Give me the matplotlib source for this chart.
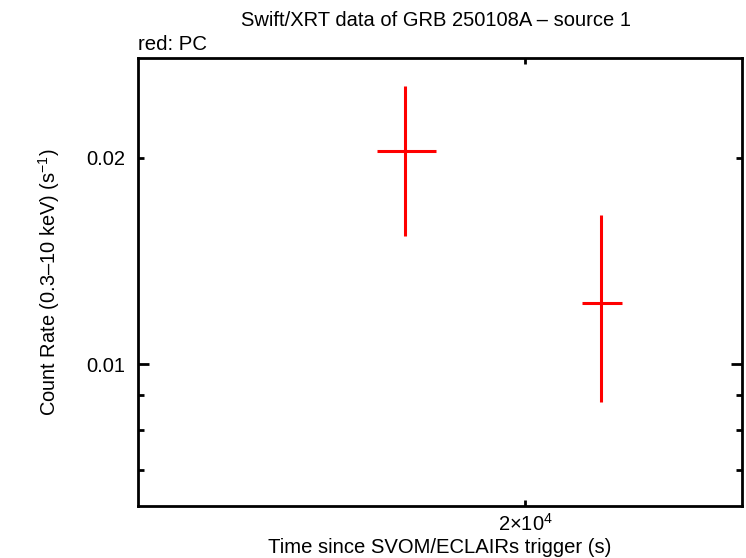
import matplotlib
matplotlib.use("Agg")
import matplotlib.pyplot as plt
from matplotlib.ticker import FixedLocator, FixedFormatter, NullLocator

plt.rcParams['font.family'] = ['Liberation Sans', 'DejaVu Sans']
plt.rcParams['mathtext.fontset'] = 'custom'
plt.rcParams['mathtext.rm'] = 'Liberation Sans'
plt.rcParams['mathtext.it'] = 'Liberation Sans'

# data (PC mode)
time = [17045, 22130]
time_lo = [16420, 21570]
time_hi = [17750, 22750]
rate = [0.02045, 0.01226]
rate_lo = [0.01539, 0.00881]
rate_hi = [0.02547, 0.01650]

xlim = (11930, 26700)
ylim = (0.006207, 0.02796)
y_major = [0.01]
y_minor = [0.007, 0.008, 0.009, 0.02]
y_minor_labels = ['', '', '', '0.02']
x_minor = [2e4]
x_minor_labels = [r'2$\times$10$^{4}$']

fig = plt.figure(figsize=(7.46, 5.58), dpi=100)
ax = fig.add_axes([137.5/746, 1-506/558, (742-137.5)/746, (506-58)/558])
ax.set_xscale('log')
ax.set_yscale('log')

xerr = [[t - l for t, l in zip(time, time_lo)], [h - t for t, h in zip(time, time_hi)]]
yerr = [[r - l for r, l in zip(rate, rate_lo)], [h - r for r, h in zip(rate, rate_hi)]]
ax.errorbar(time, rate, xerr=xerr, yerr=yerr, fmt='none', ecolor='#ff0000',
            elinewidth=2.2, capsize=0)

ax.set_xlim(*xlim)
ax.set_ylim(*ylim)

ax.yaxis.set_major_locator(FixedLocator(y_major))
ax.yaxis.set_major_formatter(FixedFormatter(['0.01']))
ax.yaxis.set_minor_locator(FixedLocator(y_minor))
ax.yaxis.set_minor_formatter(FixedFormatter(y_minor_labels))
ax.xaxis.set_major_locator(NullLocator())
ax.xaxis.set_minor_locator(FixedLocator(x_minor))
ax.xaxis.set_minor_formatter(FixedFormatter(x_minor_labels))

for s in ax.spines.values():
    s.set_linewidth(2)
ax.tick_params(which='both', direction='in', top=True, right=True, width=2,
               labelsize=14.5)
ax.tick_params(axis='y', which='both', pad=9)
ax.tick_params(axis='x', which='both', pad=5)
ax.tick_params(which='major', length=8)
ax.tick_params(which='minor', length=4.5)

ax.set_xlabel('Time since SVOM/ECLAIRs trigger (s)', fontsize=14.6)
ax.set_ylabel('Count Rate (0.3\u201310 keV) (s$^{-1}$)', fontsize=14.4)
ax.xaxis.set_label_coords(0.5, -0.072)
ax.yaxis.set_label_coords(-0.125, 0.5)
fig.text(436/746, 1-20/558, 'Swift/XRT data of GRB 250108A \u2013 source 1',
         ha='center', va='center', fontsize=14.5)
fig.text(138/746, 1-44/558, 'red: PC', ha='left', va='center', fontsize=14.7)

fig.savefig('out.png', dpi=100)
